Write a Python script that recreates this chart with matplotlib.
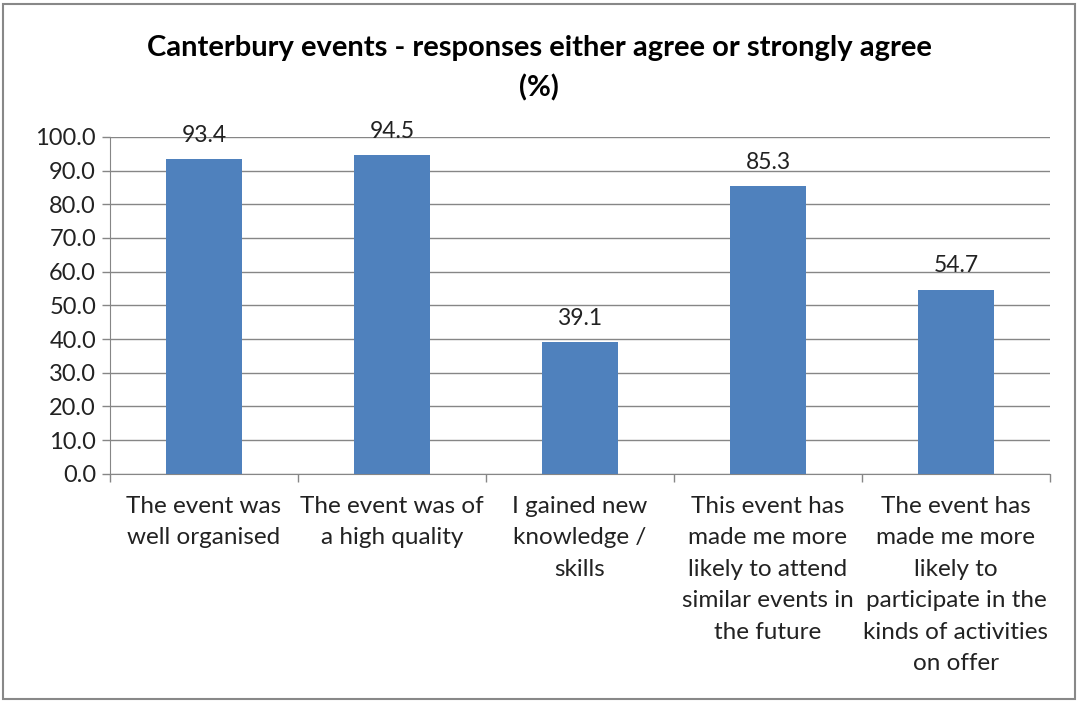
import matplotlib.pyplot as plt
from matplotlib.patches import Rectangle

plt.rcParams['font.family'] = ['Lato', 'DejaVu Sans']

categories = [
    "The event was\nwell organised",
    "The event was of\na high quality",
    "I gained new\nknowledge /\nskills",
    "This event has\nmade me more\nlikely to attend\nsimilar events in\nthe future",
    "The event has\nmade me more\nlikely to\nparticipate in the\nkinds of activities\non offer",
]
values = [93.4, 94.5, 39.1, 85.3, 54.7]
yticks = [0, 10, 20, 30, 40, 50, 60, 70, 80, 90, 100]

fig = plt.figure(figsize=(10.78, 7.02), dpi=100)
fig.patches.append(Rectangle((0.003, 0.004), 0.994, 0.99, transform=fig.transFigure,
                             fill=False, edgecolor='#888888', linewidth=1.5))

ax = fig.add_axes([0.102, 0.325, 0.872, 0.48])
x = range(len(values))
bars = ax.bar(x, values, width=0.4, color='#4F81BD', zorder=3)
for xi, v in zip(x, values):
    ax.text(xi, v + 4, f"{v:.1f}", ha='center', va='bottom', fontsize=16.5, color='#222222')

ax.set_xlim(-0.5, len(values) - 0.5)
ax.set_ylim(0, 100)
ax.set_yticks(yticks)
ax.set_yticklabels([f"{t:.1f}" for t in yticks], fontsize=17, color='#222222')
ax.yaxis.grid(True, color='#868686', linewidth=1, zorder=0)

# category labels sit under each bar, ticks sit on the boundaries
ax.set_xticks([i + 0.5 for i in range(-1, len(values))])
ax.set_xticklabels([])
ax.tick_params(axis='x', length=6, color='#868686', width=1)
ax.tick_params(axis='y', length=6, color='#868686', width=1, pad=4)
for xi, lab in zip(x, categories):
    ax.text(xi, -6.5, lab, ha='center', va='top', fontsize=17.5, color='#222222',
            linespacing=1.62, transform=ax.transData, clip_on=False)

for side in ['top', 'right']:
    ax.spines[side].set_visible(False)
ax.spines['left'].set_color('#868686')
ax.spines['bottom'].set_color('#868686')

fig.text(0.5, 0.903, "Canterbury events - responses either agree or strongly agree\n(%)",
         ha='center', va='center', fontsize=21, fontweight='bold', color='black',
         linespacing=1.6)

fig.savefig('out.png', dpi=100)
